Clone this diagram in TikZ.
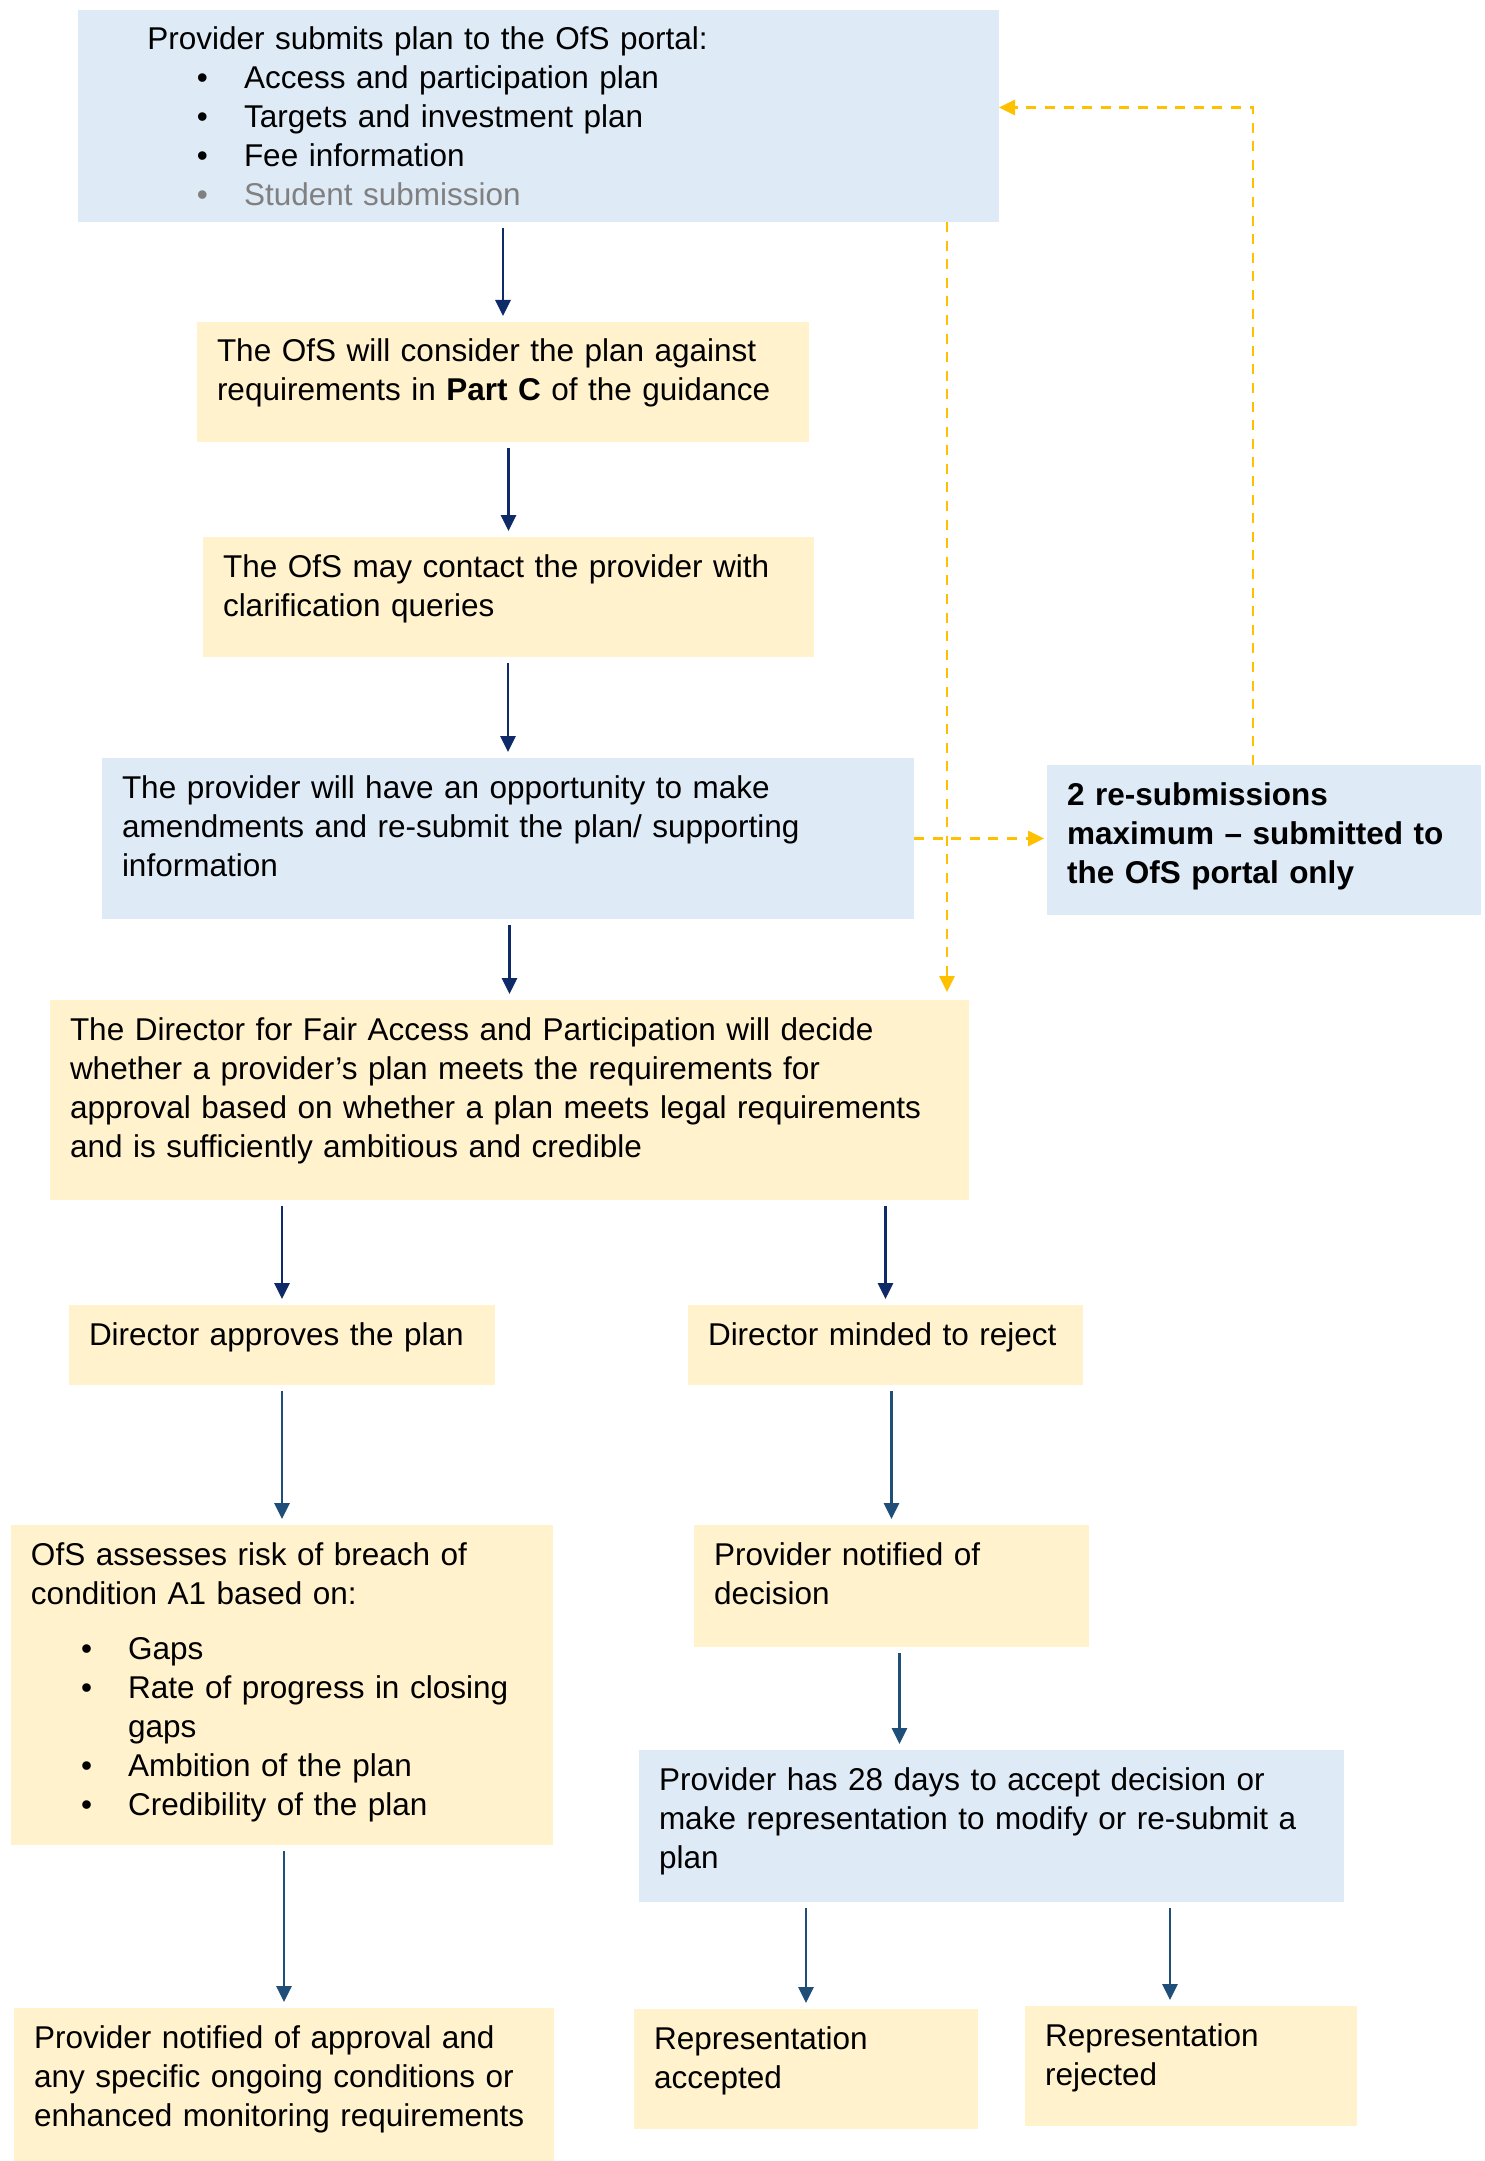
\documentclass[tikz,border=0pt]{standalone}
\usepackage{fontspec}
\setmainfont{Liberation Sans}
\usepackage{tikz}
\usetikzlibrary{arrows.meta}
\usetikzlibrary{calc}

\definecolor{paleblue}{HTML}{DEEAF6}
\definecolor{paleyellow}{HTML}{FFF2CC}
\definecolor{navyline}{HTML}{0F2A68}
\definecolor{steelline}{HTML}{1F4E79}
\definecolor{goldline}{HTML}{FFC000}
\definecolor{studentgrey}{HTML}{808080}

\newenvironment{stagelist}[2]{\begin{list}{\textbullet}{%
  \setlength{\leftmargin}{#1}\setlength{\labelsep}{18pt}\setlength{\labelwidth}{20pt}%
  \setlength{\topsep}{#2}\setlength{\partopsep}{0pt}%
  \setlength{\itemsep}{0pt}\setlength{\parsep}{0pt}}}{\end{list}}

\begin{document}
\begin{tikzpicture}[x=0.5pt, y=-0.5pt,
  stage/.style={anchor=north west, inner xsep=10pt, inner ysep=8pt, outer sep=0pt,
    align=left, text height=12pt, font=\fontsize{15.75pt}{19.5pt}\selectfont},
  bluestage/.style={stage, fill=paleblue},
  yellowstage/.style={stage, fill=paleyellow},
  arrowdark/.style={draw=navyline, line width=1.4pt, -{Triangle[length=8pt,width=7.5pt]},
    shorten <=3pt, shorten >=3pt},
  arrowmid/.style={arrowdark, draw=steelline},
  dashline/.style={draw=goldline, line width=1.35pt, dash pattern=on 5pt off 4.3pt,
    -{Triangle[length=8pt,width=7.5pt]}}]
\useasboundingbox (0,0) rectangle (1484,2161);

\node[bluestage, text width=440.5pt, text depth=78pt] (submit) at (78,10)
  {\hspace*{24.7pt}Provider submits plan to the OfS portal:
   \begin{stagelist}{73pt}{0pt}
   \item Access and participation plan
   \item Targets and investment plan
   \item Fee information
   \item[\textcolor{studentgrey}{\textbullet}] \textcolor{studentgrey}{Student submission}
   \end{stagelist}};
\node[yellowstage, text width=286pt, text depth=32pt] (consider) at (197,322)
  {The OfS will consider the plan against\\ requirements in \textbf{Part C} of the guidance};
\node[yellowstage, text width=285.5pt, text depth=32pt] (clarify) at (203,537)
  {The OfS may contact the provider with\\ clarification queries};
\node[bluestage, text width=386pt, text depth=52.5pt] (amend) at (102,758)
  {The provider will have an opportunity to make\\ amendments and re-submit the plan/ supporting\\ information};
\node[bluestage, text width=197pt, text depth=47pt, font=\fontsize{15.75pt}{19.5pt}\selectfont\bfseries] (limit) at (1047,765)
  {2 re-submissions\\ maximum – submitted to\\ the OfS portal only};
\node[yellowstage, text width=439.5pt, text depth=72pt] (decide) at (50,1000)
  {The Director for Fair Access and Participation will decide\\ whether a provider’s plan meets the requirements for\\ approval based on whether a plan meets legal requirements\\ and is sufficiently ambitious and credible};
\node[yellowstage, text width=193pt, text depth=12pt] (approve) at (69,1305)
  {Director approves the plan};
\node[yellowstage, text width=177.5pt, text depth=12pt] (reject) at (688,1305)
  {Director minded to reject};
\node[yellowstage, text width=251pt, text depth=132pt] (assess) at (11,1525)
  {OfS assesses risk of breach of\\ condition A1 based on:
   \begin{stagelist}{48.6pt}{8pt}
   \item Gaps
   \item Rate of progress in closing gaps
   \item Ambition of the plan
   \item Credibility of the plan
   \end{stagelist}};
\node[yellowstage, text width=177.5pt, text depth=33pt] (notifyd) at (694,1525)
  {Provider notified of\\ decision};
\node[bluestage, text width=332.5pt, text depth=48pt] (days) at (639,1750)
  {Provider has 28 days to accept decision or\\ make representation to modify or re-submit a\\ plan};
\node[yellowstage, text width=250pt, text depth=48.5pt] (notifya) at (14,2008)
  {Provider notified of approval and\\ any specific ongoing conditions or\\ enhanced monitoring requirements};
\node[yellowstage, text width=152pt, text depth=32pt] (accepted) at (634,2009)
  {Representation\\ accepted};
\node[yellowstage, text width=146pt, text depth=32pt] (rejected) at (1025,2006)
  {Representation\\ rejected};

\draw[arrowdark] (consider.north |- submit.south) -- (consider.north);
\draw[arrowdark] (clarify.north |- consider.south) -- (clarify.north);
\draw[arrowdark] (amend.north |- clarify.south) -- (amend.north);
\draw[arrowdark] (decide.north |- amend.south) -- (decide.north);
\draw[arrowdark] (approve.north |- decide.south) -- (approve.north);
\draw[arrowdark] (reject.north |- decide.south) -- (reject.north);
\draw[arrowmid] (assess.north |- approve.south) -- (assess.north);
\draw[arrowmid] (notifyd.north |- reject.south) -- (notifyd.north);
\draw[arrowmid] ([xshift=4pt]notifyd.south) -- ([xshift=4pt]notifyd.south |- days.north);
\draw[arrowmid] (notifya.north |- assess.south) -- (notifya.north);
\draw[arrowmid] (accepted.north |- days.south) -- (accepted.north);
\draw[arrowmid] ([xshift=-10.5pt]rejected.north |- days.south) -- ([xshift=-10.5pt]rejected.north);

\coordinate (dropin) at ([xshift=-11pt]decide.north east);
\draw[dashline, shorten >=4pt] (submit.south -| dropin) -- (dropin);
\draw[dashline, shorten >=1.5pt] (amend.east) -- (limit.west |- amend.east);
\draw[dashline] ([xshift=-5.5pt]limit.north) |- ([yshift=4.25pt]submit.east);
\end{tikzpicture}
\end{document}
